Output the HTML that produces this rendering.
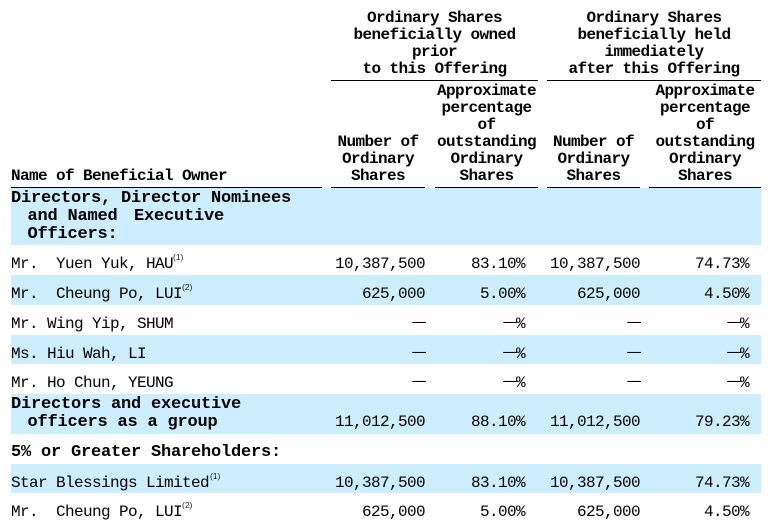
<!DOCTYPE html>
<html>
<head>
<meta charset="utf-8">
<style>
html,body{margin:0;padding:0;background:#fff;}
body{width:774px;height:526px;position:relative;overflow:hidden;}
.bg{position:absolute;left:11px;width:750px;background:#CCEEFF;}
.ln{position:absolute;height:1px;background:#000;}
.t{position:absolute;white-space:pre;font-family:"Liberation Mono",monospace;font-size:16px;letter-spacing:-0.6px;line-height:20px;color:#000;}
.h{position:absolute;white-space:pre;font-family:"Liberation Mono",monospace;font-size:16px;font-weight:bold;letter-spacing:-0.6px;line-height:17px;color:#000;text-align:center;}
.s{position:absolute;white-space:pre;font-family:"Liberation Mono",monospace;font-size:17px;font-weight:bold;letter-spacing:-0.2px;line-height:20px;color:#000;}
.r{text-align:right;}
.c2{right:349px;}
.c3{right:249px;}
.c4{right:134px;}
.c5{right:25px;}
.sup{position:absolute;white-space:pre;font-family:"Liberation Sans",sans-serif;font-size:8.5px;line-height:10px;color:#222;}
.d{display:inline-block;transform:translate(0,-1.5px) scaleX(1.4);transform-origin:right center;}
</style>
</head>
<body>
<!-- blue bands -->
<div class="bg" style="top:188px;height:57px;"></div>
<div class="bg" style="top:275px;height:30px;"></div>
<div class="bg" style="top:335px;height:29px;"></div>
<div class="bg" style="top:394px;height:40px;"></div>
<div class="bg" style="top:464px;height:29px;"></div>

<!-- header rules -->
<div class="ln" style="top:80px;left:331px;width:207px;"></div>
<div class="ln" style="top:80px;left:547px;width:214px;"></div>
<div class="ln" style="top:187px;left:11px;width:311px;"></div>
<div class="ln" style="top:187px;left:331px;width:94px;"></div>
<div class="ln" style="top:187px;left:435px;width:103px;"></div>
<div class="ln" style="top:187px;left:547px;width:93px;"></div>
<div class="ln" style="top:187px;left:649px;width:112px;"></div>

<!-- group headers -->
<div class="h" style="left:331px;width:207px;top:10px;">Ordinary Shares
beneficially owned
prior
to this Offering</div>
<div class="h" style="left:547px;width:214px;top:10px;">Ordinary Shares
beneficially held
immediately
after this Offering</div>

<!-- column headers -->
<div class="h" style="left:11px;top:168px;text-align:left;">Name of Beneficial Owner</div>
<div class="h" style="left:331px;width:94px;top:134px;">Number of
Ordinary
Shares</div>
<div class="h" style="left:435px;width:103px;top:83px;">Approximate
percentage
of
outstanding
Ordinary
Shares</div>
<div class="h" style="left:547px;width:93px;top:134px;">Number of
Ordinary
Shares</div>
<div class="h" style="left:649px;width:112px;top:83px;">Approximate
percentage
of
outstanding
Ordinary
Shares</div>

<!-- section 1 -->
<div class="s" style="left:11px;top:189px;">Directors, Director Nominees</div>
<div class="s" style="left:27.5px;top:207px;">and Named</div>
<div class="s" style="left:134px;top:207px;">Executive</div>
<div class="s" style="left:27.5px;top:224.7px;">Officers:</div>

<!-- row 1 -->
<div class="t" style="left:11px;top:253.7px;">Mr.  Yuen Yuk, HAU</div>
<div class="sup" style="left:173px;top:252.2px;">(1)</div>
<div class="t r c2" style="top:253.7px;">10,387,500</div>
<div class="t r c3" style="top:253.7px;">83.10%</div>
<div class="t r c4" style="top:253.7px;">10,387,500</div>
<div class="t r c5" style="top:253.7px;">74.73%</div>

<!-- row 2 -->
<div class="t" style="left:11px;top:283.7px;">Mr.  Cheung Po, LUI</div>
<div class="sup" style="left:182px;top:282.2px;">(2)</div>
<div class="t r c2" style="top:283.7px;">625,000</div>
<div class="t r c3" style="top:283.7px;">5.00%</div>
<div class="t r c4" style="top:283.7px;">625,000</div>
<div class="t r c5" style="top:283.7px;">4.50%</div>

<!-- row 3 -->
<div class="t" style="left:11px;top:313.7px;">Mr. Wing Yip, SHUM</div>
<div class="t r c2" style="top:313.7px;"><span class="d">—</span></div>
<div class="t r c3" style="top:313.7px;"><span class="d">—</span>%</div>
<div class="t r c4" style="top:313.7px;"><span class="d">—</span></div>
<div class="t r c5" style="top:313.7px;"><span class="d">—</span>%</div>

<!-- row 4 -->
<div class="t" style="left:11px;top:343.7px;">Ms. Hiu Wah, LI</div>
<div class="t r c2" style="top:343.7px;"><span class="d">—</span></div>
<div class="t r c3" style="top:343.7px;"><span class="d">—</span>%</div>
<div class="t r c4" style="top:343.7px;"><span class="d">—</span></div>
<div class="t r c5" style="top:343.7px;"><span class="d">—</span>%</div>

<!-- row 5 -->
<div class="t" style="left:11px;top:373.2px;">Mr. Ho Chun, YEUNG</div>
<div class="t r c2" style="top:373.2px;"><span class="d">—</span></div>
<div class="t r c3" style="top:373.2px;"><span class="d">—</span>%</div>
<div class="t r c4" style="top:373.2px;"><span class="d">—</span></div>
<div class="t r c5" style="top:373.2px;"><span class="d">—</span>%</div>

<!-- group row -->
<div class="s" style="left:11px;top:395px;">Directors and executive</div>
<div class="s" style="left:27.5px;top:412.7px;">officers as a group</div>
<div class="t r c2" style="top:412.2px;">11,012,500</div>
<div class="t r c3" style="top:412.2px;">88.10%</div>
<div class="t r c4" style="top:412.2px;">11,012,500</div>
<div class="t r c5" style="top:412.2px;">79.23%</div>

<!-- section 2 -->
<div class="s" style="left:11px;top:443px;">5% or Greater Shareholders:</div>

<!-- star row -->
<div class="t" style="left:11px;top:472.7px;">Star Blessings Limited</div>
<div class="sup" style="left:210px;top:471.2px;">(1)</div>
<div class="t r c2" style="top:472.7px;">10,387,500</div>
<div class="t r c3" style="top:472.7px;">83.10%</div>
<div class="t r c4" style="top:472.7px;">10,387,500</div>
<div class="t r c5" style="top:472.7px;">74.73%</div>

<!-- last row -->
<div class="t" style="left:11px;top:501.7px;">Mr.  Cheung Po, LUI</div>
<div class="sup" style="left:182px;top:500.2px;">(2)</div>
<div class="t r c2" style="top:501.7px;">625,000</div>
<div class="t r c3" style="top:501.7px;">5.00%</div>
<div class="t r c4" style="top:501.7px;">625,000</div>
<div class="t r c5" style="top:501.7px;">4.50%</div>
</body>
</html>
